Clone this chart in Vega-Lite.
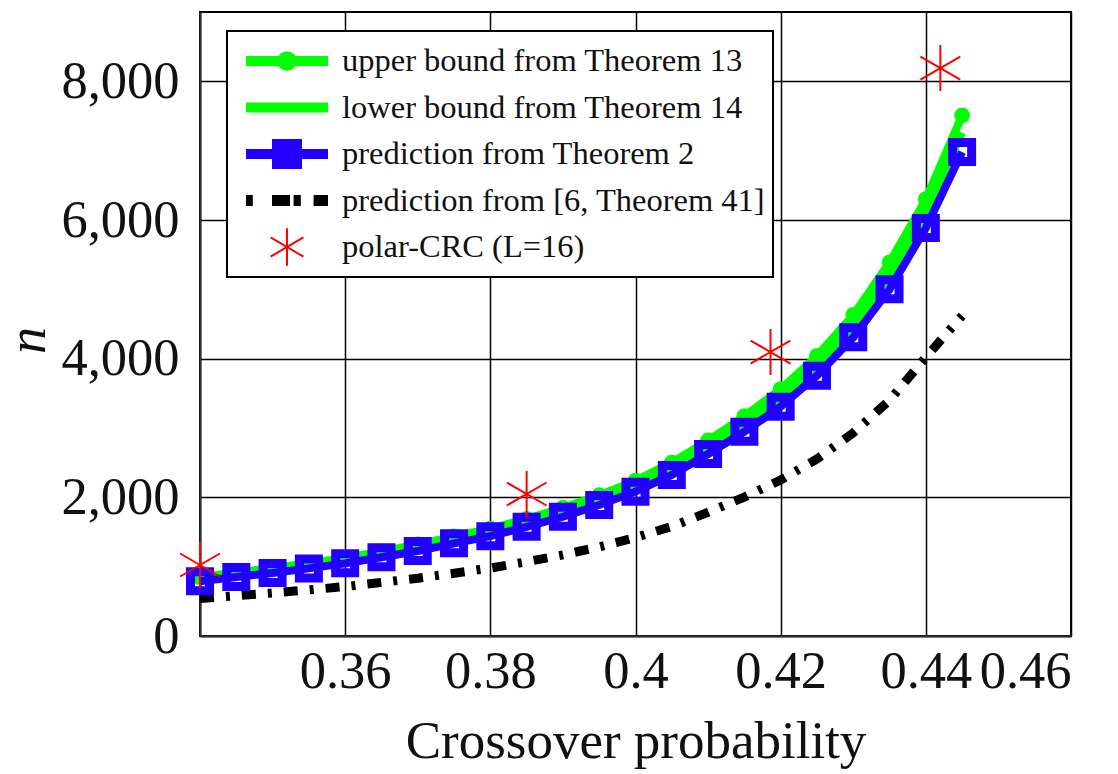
{
  "$schema": "https://vega.github.io/schema/vega-lite/v6.json",
  "autosize": "none",
  "width": 871,
  "height": 624,
  "padding": {"left": 200, "top": 12, "right": 47, "bottom": 138},
  "background": "white",
  "config": {
    "font": "Liberation Serif",
    "view": {"stroke": "#000000", "strokeWidth": 2},
    "axis": {
      "labelFont": "Liberation Serif",
      "titleFont": "Liberation Serif",
      "labelColor": "#111111",
      "titleColor": "#111111",
      "grid": true,
      "gridColor": "#000000",
      "gridOpacity": 1,
      "gridWidth": 1.5,
      "ticks": false,
      "domainColor": "#333333",
      "domainWidth": 2,
      "titleFontWeight": "normal"
    },
    "legend": {"labelFont": "Liberation Serif"}
  },
  "data": {
    "values": [
      {"p": 0.34, "n": 850, "series": "upper bound from Theorem 13"},
      {"p": 0.345, "n": 915, "series": "upper bound from Theorem 13"},
      {"p": 0.35, "n": 980, "series": "upper bound from Theorem 13"},
      {"p": 0.355, "n": 1050, "series": "upper bound from Theorem 13"},
      {"p": 0.36, "n": 1125, "series": "upper bound from Theorem 13"},
      {"p": 0.365, "n": 1220, "series": "upper bound from Theorem 13"},
      {"p": 0.37, "n": 1320, "series": "upper bound from Theorem 13"},
      {"p": 0.375, "n": 1435, "series": "upper bound from Theorem 13"},
      {"p": 0.38, "n": 1550, "series": "upper bound from Theorem 13"},
      {"p": 0.385, "n": 1690, "series": "upper bound from Theorem 13"},
      {"p": 0.39, "n": 1850, "series": "upper bound from Theorem 13"},
      {"p": 0.395, "n": 2030, "series": "upper bound from Theorem 13"},
      {"p": 0.4, "n": 2240, "series": "upper bound from Theorem 13"},
      {"p": 0.405, "n": 2500, "series": "upper bound from Theorem 13"},
      {"p": 0.41, "n": 2820, "series": "upper bound from Theorem 13"},
      {"p": 0.415, "n": 3170, "series": "upper bound from Theorem 13"},
      {"p": 0.42, "n": 3560, "series": "upper bound from Theorem 13"},
      {"p": 0.425, "n": 4040, "series": "upper bound from Theorem 13"},
      {"p": 0.43, "n": 4630, "series": "upper bound from Theorem 13"},
      {"p": 0.435, "n": 5390, "series": "upper bound from Theorem 13"},
      {"p": 0.44, "n": 6300, "series": "upper bound from Theorem 13"},
      {"p": 0.445, "n": 7510, "series": "upper bound from Theorem 13"},

      {"p": 0.34, "n": 820, "series": "lower bound from Theorem 14"},
      {"p": 0.345, "n": 885, "series": "lower bound from Theorem 14"},
      {"p": 0.35, "n": 945, "series": "lower bound from Theorem 14"},
      {"p": 0.355, "n": 1015, "series": "lower bound from Theorem 14"},
      {"p": 0.36, "n": 1090, "series": "lower bound from Theorem 14"},
      {"p": 0.365, "n": 1180, "series": "lower bound from Theorem 14"},
      {"p": 0.37, "n": 1275, "series": "lower bound from Theorem 14"},
      {"p": 0.375, "n": 1390, "series": "lower bound from Theorem 14"},
      {"p": 0.38, "n": 1500, "series": "lower bound from Theorem 14"},
      {"p": 0.385, "n": 1640, "series": "lower bound from Theorem 14"},
      {"p": 0.39, "n": 1790, "series": "lower bound from Theorem 14"},
      {"p": 0.395, "n": 1965, "series": "lower bound from Theorem 14"},
      {"p": 0.4, "n": 2165, "series": "lower bound from Theorem 14"},
      {"p": 0.405, "n": 2415, "series": "lower bound from Theorem 14"},
      {"p": 0.41, "n": 2730, "series": "lower bound from Theorem 14"},
      {"p": 0.415, "n": 3065, "series": "lower bound from Theorem 14"},
      {"p": 0.42, "n": 3440, "series": "lower bound from Theorem 14"},
      {"p": 0.425, "n": 3905, "series": "lower bound from Theorem 14"},
      {"p": 0.43, "n": 4480, "series": "lower bound from Theorem 14"},
      {"p": 0.435, "n": 5200, "series": "lower bound from Theorem 14"},
      {"p": 0.44, "n": 6120, "series": "lower bound from Theorem 14"},
      {"p": 0.445, "n": 7260, "series": "lower bound from Theorem 14"},

      {"p": 0.34, "n": 790, "series": "prediction from Theorem 2"},
      {"p": 0.345, "n": 850, "series": "prediction from Theorem 2"},
      {"p": 0.35, "n": 910, "series": "prediction from Theorem 2"},
      {"p": 0.355, "n": 975, "series": "prediction from Theorem 2"},
      {"p": 0.36, "n": 1048, "series": "prediction from Theorem 2"},
      {"p": 0.365, "n": 1135, "series": "prediction from Theorem 2"},
      {"p": 0.37, "n": 1226, "series": "prediction from Theorem 2"},
      {"p": 0.375, "n": 1337, "series": "prediction from Theorem 2"},
      {"p": 0.38, "n": 1440, "series": "prediction from Theorem 2"},
      {"p": 0.385, "n": 1575, "series": "prediction from Theorem 2"},
      {"p": 0.39, "n": 1720, "series": "prediction from Theorem 2"},
      {"p": 0.395, "n": 1890, "series": "prediction from Theorem 2"},
      {"p": 0.4, "n": 2082, "series": "prediction from Theorem 2"},
      {"p": 0.405, "n": 2322, "series": "prediction from Theorem 2"},
      {"p": 0.41, "n": 2625, "series": "prediction from Theorem 2"},
      {"p": 0.415, "n": 2947, "series": "prediction from Theorem 2"},
      {"p": 0.42, "n": 3308, "series": "prediction from Theorem 2"},
      {"p": 0.425, "n": 3755, "series": "prediction from Theorem 2"},
      {"p": 0.43, "n": 4308, "series": "prediction from Theorem 2"},
      {"p": 0.435, "n": 5000, "series": "prediction from Theorem 2"},
      {"p": 0.44, "n": 5885, "series": "prediction from Theorem 2"},
      {"p": 0.445, "n": 6981, "series": "prediction from Theorem 2"},

      {"p": 0.34, "n": 540, "series": "prediction from [6, Theorem 41]"},
      {"p": 0.345, "n": 580, "series": "prediction from [6, Theorem 41]"},
      {"p": 0.35, "n": 620, "series": "prediction from [6, Theorem 41]"},
      {"p": 0.355, "n": 665, "series": "prediction from [6, Theorem 41]"},
      {"p": 0.36, "n": 713, "series": "prediction from [6, Theorem 41]"},
      {"p": 0.365, "n": 772, "series": "prediction from [6, Theorem 41]"},
      {"p": 0.37, "n": 834, "series": "prediction from [6, Theorem 41]"},
      {"p": 0.375, "n": 905, "series": "prediction from [6, Theorem 41]"},
      {"p": 0.38, "n": 980, "series": "prediction from [6, Theorem 41]"},
      {"p": 0.385, "n": 1071, "series": "prediction from [6, Theorem 41]"},
      {"p": 0.39, "n": 1170, "series": "prediction from [6, Theorem 41]"},
      {"p": 0.395, "n": 1285, "series": "prediction from [6, Theorem 41]"},
      {"p": 0.4, "n": 1420, "series": "prediction from [6, Theorem 41]"},
      {"p": 0.405, "n": 1580, "series": "prediction from [6, Theorem 41]"},
      {"p": 0.41, "n": 1785, "series": "prediction from [6, Theorem 41]"},
      {"p": 0.415, "n": 2004, "series": "prediction from [6, Theorem 41]"},
      {"p": 0.42, "n": 2250, "series": "prediction from [6, Theorem 41]"},
      {"p": 0.425, "n": 2553, "series": "prediction from [6, Theorem 41]"},
      {"p": 0.43, "n": 2930, "series": "prediction from [6, Theorem 41]"},
      {"p": 0.435, "n": 3400, "series": "prediction from [6, Theorem 41]"},
      {"p": 0.44, "n": 4020, "series": "prediction from [6, Theorem 41]"},
      {"p": 0.445, "n": 4620, "series": "prediction from [6, Theorem 41]"},

      {"p": 0.34, "n": 1024, "series": "polar-CRC (L=16)"},
      {"p": 0.385, "n": 2048, "series": "polar-CRC (L=16)"},
      {"p": 0.4186, "n": 4096, "series": "polar-CRC (L=16)"},
      {"p": 0.442, "n": 8192, "series": "polar-CRC (L=16)"}
    ]
  },
  "encoding": {
    "x": {
      "field": "p", "type": "quantitative",
      "scale": {"domain": [0.34, 0.46], "nice": false, "zero": false},
      "axis": {
        "values": [0.34, 0.36, 0.38, 0.4, 0.42, 0.44, 0.46],
        "labelExpr": "datum.value < 0.345 ? '' : format(datum.value, '.2~f')",
        "labelFontSize": 52.5, "labelPadding": 10,
        "title": "Crossover probability", "titleFontSize": 53, "titlePadding": 18
      }
    },
    "y": {
      "field": "n", "type": "quantitative",
      "scale": {"domain": [0, 9000], "nice": false},
      "axis": {
        "values": [0, 2000, 4000, 6000, 8000], "format": ",d",
        "labelFontSize": 52.5, "labelPadding": 21,
        "title": "n", "titleFontSize": 54, "titleFontStyle": "italic", "titlePadding": 5, "titleY": 328
      }
    },
    "color": {
      "field": "series", "type": "nominal",
      "scale": {
        "domain": ["upper bound from Theorem 13", "lower bound from Theorem 14", "prediction from Theorem 2", "prediction from [6, Theorem 41]", "polar-CRC (L=16)"],
        "range": ["#00ff00", "#00ff00", "#2200ff", "#000000", "#ff0000"]
      },
      "legend": {
        "title": null,
        "orient": "none",
        "legendX": 27,
        "legendY": 19,
        "fillColor": "white",
        "strokeColor": "#000000",
        "padding": 7,
        "symbolOffset": 12,
        "labelFontSize": 32.5,
        "labelColor": "#111111",
        "labelLimit": 700,
        "labelOffset": 14,
        "rowPadding": 0.5,
        "clipHeight": 46,
        "symbolSize": 6400,
        "encode": {
          "legend": {"update": {"strokeWidth": {"value": 2}}},
          "symbols": {
            "update": {
              "shape": [
                {"test": "datum.value === 'upper bound from Theorem 13'", "value": "M-1,-0.1H1V0.1H-1Z M0.22,0A0.22,0.22,0,1,1,-0.22,0A0.22,0.22,0,1,1,0.22,0Z"},
                {"test": "datum.value === 'lower bound from Theorem 14'", "value": "M-1,-0.1H1V0.1H-1Z"},
                {"test": "datum.value === 'prediction from Theorem 2'", "value": "M-1,-0.1H1V0.1H-1Z M-0.35,-0.35H0.35V0.35H-0.35Z"},
                {"test": "datum.value === 'prediction from [6, Theorem 41]'", "value": "M-1,-0.11H-0.88V0.11H-1Z M-0.35,-0.11H0.05V0.11H-0.35Z M0.19,-0.11H0.32V0.11H0.19Z M0.69,-0.11H1V0.11H0.69Z"},
                {"value": "M0,-0.47V0.47M-0.41,-0.24L0.41,0.24M-0.41,0.24L0.41,-0.24"}
              ],
              "fill": [
                {"test": "datum.value === 'polar-CRC (L=16)'", "value": "transparent"},
                {"test": "datum.value === 'prediction from Theorem 2'", "value": "#2200ff"},
                {"test": "datum.value === 'prediction from [6, Theorem 41]'", "value": "#000000"},
                {"value": "#00ff00"}
              ],
              "stroke": [
                {"test": "datum.value === 'polar-CRC (L=16)'", "value": "#ff0000"},
                {"value": "transparent"}
              ],
              "strokeWidth": {"value": 2},
              "strokeDash": {"value": []},
              "opacity": {"value": 1},
              "fillOpacity": {"value": 1},
              "strokeOpacity": {"value": 1},
              "size": {"value": 6400}
            }
          }
        }
      }
    }
  },
  "layer": [
    {
      "transform": [{"filter": "datum.series === 'prediction from [6, Theorem 41]'"}],
      "mark": {"type": "line", "strokeWidth": 9, "strokeDash": [14, 12, 4, 12]}
    },
    {
      "transform": [{"filter": "datum.series === 'upper bound from Theorem 13'"}],
      "mark": {"type": "line", "strokeWidth": 8}
    },
    {
      "transform": [{"filter": "datum.series === 'upper bound from Theorem 13'"}],
      "mark": {"type": "point", "shape": "circle", "filled": true, "size": 250, "opacity": 1}
    },
    {
      "transform": [{"filter": "datum.series === 'lower bound from Theorem 14'"}],
      "mark": {"type": "line", "strokeWidth": 8}
    },
    {
      "transform": [{"filter": "datum.series === 'prediction from Theorem 2'"}],
      "mark": {"type": "line", "strokeWidth": 8}
    },
    {
      "transform": [{"filter": "datum.series === 'prediction from Theorem 2'"}],
      "mark": {"type": "point", "shape": "square", "filled": false, "size": 361, "strokeWidth": 9, "opacity": 1}
    },
    {
      "transform": [{"filter": "datum.series === 'polar-CRC (L=16)'"}],
      "mark": {"type": "point", "shape": "M0,-1V1M-0.866,-0.5L0.866,0.5M-0.866,0.5L0.866,-0.5", "filled": false, "size": 2116, "strokeWidth": 2, "opacity": 1}
    }
  ]
}
